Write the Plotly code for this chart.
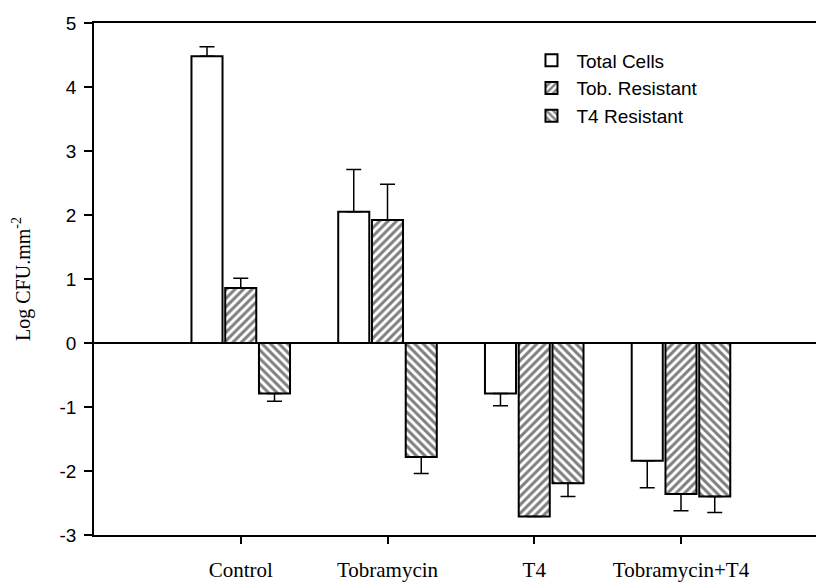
import plotly.graph_objects as go

categories = ["Control", "Tobramycin", "T4", "Tobramycin+T4"]
series_names = ["Total Cells", "Tob. Resistant", "T4 Resistant"]
total_cells = [4.48, 2.05, -0.79, -1.84]
total_cells_err = [0.15, 0.66, 0.19, 0.42]
tob_resistant = [0.86, 1.92, -2.71, -2.36]
tob_resistant_err = [0.15, 0.56, 0.0, 0.26]
t4_resistant = [-0.79, -1.78, -2.19, -2.40]
t4_resistant_err = [0.12, 0.26, 0.21, 0.25]
y_ticks = [-3, -2, -1, 0, 1, 2, 3, 4, 5]
y_tick_labels = ["-3", "-2", "-1", "0", "1", "2", "3", "4", "5"]

values = [total_cells, tob_resistant, t4_resistant]
errors = [total_cells_err, tob_resistant_err, t4_resistant_err]
patterns = ["", "/", "\\"]

fig = go.Figure()
for name, vals, errs, pat in zip(series_names, values, errors, patterns):
    plus = [e if v >= 0 else 0 for v, e in zip(vals, errs)]
    minus = [e if v < 0 else 0 for v, e in zip(vals, errs)]
    fig.add_trace(go.Bar(
        x=categories, y=vals, name=name,
        marker=dict(color="white", line=dict(color="black", width=2),
                    pattern=dict(shape=pat, fgcolor="black", bgcolor="white",
                                 size=6, solidity=0.5)),
        error_y=dict(type="data", symmetric=False, array=plus, arrayminus=minus,
                     color="black", thickness=1.5, width=7.5),
    ))

fig.update_layout(
    width=816, height=582,
    paper_bgcolor="white", plot_bgcolor="white",
    margin=dict(l=94, r=0, t=23, b=47),
    barmode="group", bargap=0.31, bargroupgap=0.08,
    hovermode=False,
    showlegend=True,
    legend=dict(x=0.599, y=0.964, xanchor="left", yanchor="top",
                font=dict(family="Liberation Sans, Arial", size=19, color="black"),
                bgcolor="rgba(0,0,0,0)", itemwidth=40),
    xaxis=dict(type="category", range=[-1.0, 3.92], automargin=False,
               showline=True, linecolor="black", linewidth=1.5, mirror=True,
               ticks="outside", ticklen=7, tickwidth=1.5, tickcolor="black",
               ticklabelstandoff=8,
               tickfont=dict(family="Liberation Serif, Times New Roman", size=21, color="black"),
               showgrid=False, zeroline=False),
    yaxis=dict(range=[-3, 5], tickvals=y_ticks, ticktext=y_tick_labels, automargin=False,
               showline=True, linecolor="black", linewidth=1.5,
               ticks="outside", ticklen=8, tickwidth=1.5, tickcolor="black",
               ticklabelstandoff=4,
               tickfont=dict(family="Liberation Sans, Arial", size=19, color="black"),
               showgrid=False, zeroline=True, zerolinecolor="black", zerolinewidth=1.5,
               title=dict(text="Log CFU.mm<sup>-2</sup>", standoff=24,
                          font=dict(family="Liberation Serif, Times New Roman", size=20, color="black"))),
)

# remove the page's default body margin so the 816x582 figure fills the window exactly
fig.write_html("out.html",
               config={"displayModeBar": False},
               post_script="document.body.style.margin='0';document.body.style.overflow='hidden';")
